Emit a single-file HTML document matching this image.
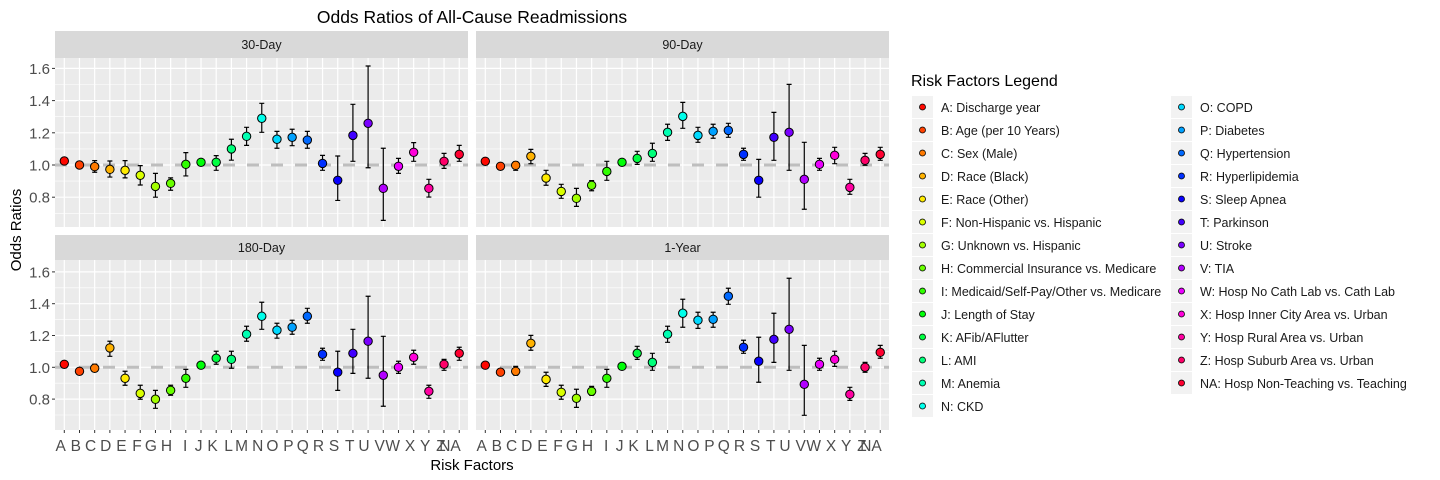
<!DOCTYPE html>
<html><head><meta charset="utf-8"><style>
body{margin:0;background:#fff;}
svg{display:block;font-family:"Liberation Sans",sans-serif;}
</style></head><body>
<svg id="chart" width="1440" height="480" viewBox="0 0 1440 480"></svg>
<script>
const categories=["A","B","C","D","E","F","G","H","I","J","K","L","M","N","O","P","Q","R","S","T","U","V","W","X","Y","Z","NA"];
const legendLabels=["A: Discharge year","B: Age (per 10 Years)","C: Sex (Male)","D: Race (Black)","E: Race (Other)","F: Non-Hispanic vs. Hispanic","G: Unknown vs. Hispanic","H: Commercial Insurance vs. Medicare","I: Medicaid/Self-Pay/Other vs. Medicare","J: Length of Stay","K: AFib/AFlutter","L: AMI","M: Anemia","N: CKD","O: COPD","P: Diabetes","Q: Hypertension","R: Hyperlipidemia","S: Sleep Apnea","T: Parkinson","U: Stroke","V: TIA","W: Hosp No Cath Lab vs. Cath Lab","X: Hosp Inner City Area vs. Urban","Y: Hosp Rural Area vs. Urban","Z: Hosp Suburb Area vs. Urban","NA: Hosp Non-Teaching vs. Teaching"];
const yTicks=[0.8,1.0,1.2,1.4,1.6];
const yMinor=[0.7,0.9,1.1,1.3,1.5];
const panelNames=["30-Day","90-Day","180-Day","1-Year"];
const or30=[1.025,1.0,0.99,0.973,0.967,0.936,0.867,0.886,1.004,1.017,1.017,1.10,1.178,1.29,1.16,1.172,1.155,1.01,0.905,1.184,1.259,0.855,0.992,1.079,0.855,1.023,1.066];
const lo30=[1.01,0.99,0.955,0.925,0.92,0.876,0.80,0.843,0.932,1.005,0.967,1.03,1.122,1.203,1.104,1.12,1.104,0.967,0.78,1.023,0.983,0.656,0.948,1.023,0.801,0.979,1.023];
const hi30=[1.04,1.01,1.027,1.025,1.027,0.996,0.948,0.92,1.077,1.03,1.058,1.16,1.234,1.383,1.209,1.222,1.209,1.06,1.056,1.377,1.615,1.104,1.041,1.139,0.911,1.072,1.122];
const or90=[1.023,0.992,0.998,1.054,0.919,0.836,0.793,0.874,0.96,1.017,1.041,1.072,1.203,1.302,1.184,1.209,1.215,1.066,0.905,1.172,1.203,0.911,1.004,1.06,0.861,1.029,1.066];
const lo90=[1.01,0.98,0.967,1.008,0.874,0.793,0.743,0.84,0.905,1.005,1.004,1.023,1.153,1.228,1.141,1.166,1.172,1.029,0.8,1.029,0.967,0.725,0.967,1.008,0.818,0.998,1.029];
const hi90=[1.035,1.004,1.02,1.097,0.967,0.88,0.855,0.903,1.023,1.029,1.085,1.135,1.253,1.389,1.234,1.253,1.259,1.104,1.035,1.327,1.501,1.141,1.041,1.11,0.911,1.072,1.11];
const or180=[1.019,0.975,0.994,1.122,0.931,0.836,0.799,0.855,0.931,1.013,1.057,1.05,1.208,1.321,1.233,1.252,1.321,1.082,0.969,1.088,1.164,0.95,1.0,1.063,0.849,1.019,1.088];
const lo180=[1.007,0.963,0.975,1.069,0.887,0.799,0.742,0.824,0.874,1.001,1.019,0.994,1.164,1.239,1.183,1.208,1.277,1.044,0.855,0.962,0.931,0.755,0.962,1.019,0.805,0.981,1.044];
const hi180=[1.031,0.987,1.019,1.164,0.975,0.887,0.855,0.887,0.987,1.025,1.101,1.101,1.258,1.409,1.277,1.296,1.371,1.12,1.101,1.239,1.447,1.195,1.038,1.107,0.887,1.05,1.126];
const or1y=[1.013,0.969,0.975,1.151,0.924,0.843,0.805,0.849,0.931,1.006,1.088,1.031,1.208,1.34,1.296,1.302,1.447,1.126,1.038,1.176,1.239,0.893,1.019,1.05,0.83,1.0,1.094];
const lo1y=[1.001,0.957,0.95,1.107,0.88,0.799,0.748,0.824,0.874,0.994,1.05,0.981,1.157,1.252,1.245,1.252,1.396,1.088,0.906,1.031,0.981,0.698,0.981,1.006,0.792,0.969,1.057];
const hi1y=[1.025,0.981,1.006,1.201,0.969,0.887,0.862,0.88,0.987,1.018,1.132,1.088,1.258,1.428,1.346,1.346,1.497,1.17,1.189,1.34,1.56,1.138,1.057,1.101,0.874,1.031,1.138];

const NS="http://www.w3.org/2000/svg";
const svg=document.getElementById("chart");
function el(tag,attrs,parent,text){const e=document.createElementNS(NS,tag);for(const k in attrs)e.setAttribute(k,attrs[k]);if(text!==undefined)e.textContent=text;(parent||svg).appendChild(e);return e;}
function color(i){return "hsl("+((i*360/27+2)%360)+",100%,50%)";}

const panels=[
 {x0:55,x1:468,sy0:31,sy1:58,py0:58,py1:227,y1:165,k:161,o:or30,l:lo30,h:hi30,bottom:false,left:true},
 {x0:476,x1:889,sy0:31,sy1:58,py0:58,py1:227,y1:165,k:161,o:or90,l:lo90,h:hi90,bottom:false,left:false},
 {x0:55,x1:468,sy0:235,sy1:260,py0:260,py1:430,y1:367.3,k:159,o:or180,l:lo180,h:hi180,bottom:true,left:true},
 {x0:476,x1:889,sy0:235,sy1:260,py0:260,py1:430,y1:367.3,k:159,o:or1y,l:lo1y,h:hi1y,bottom:true,left:false}
];
panels.forEach((p,pi)=>{
 const g=el("g",{},svg);
 
 
 const xs=i=>p.x0+9.3+i*15.19;
 const ys=v=>p.y1-(v-1)*p.k;
 el("rect",{x:p.x0,y:p.py0,width:p.x1-p.x0,height:p.py1-p.py0,fill:"#EBEBEB"},g);
 yMinor.forEach(v=>el("line",{x1:p.x0,x2:p.x1,y1:ys(v),y2:ys(v),stroke:"#fff","stroke-width":0.6},g));
 yTicks.forEach(v=>el("line",{x1:p.x0,x2:p.x1,y1:ys(v),y2:ys(v),stroke:"#fff","stroke-width":1.2},g));
 categories.forEach((c,i)=>el("line",{x1:xs(i),x2:xs(i),y1:p.py0,y2:p.py1,stroke:"#fff","stroke-width":1.2},g));
 const st=el("rect",{x:p.x0,y:p.sy0,width:p.x1-p.x0,height:p.sy1-p.sy0,fill:"#D9D9D9"},g);
 
 
 el("text",{x:(p.x0+p.x1)/2,y:(p.sy0+p.sy1)/2+4.5,"text-anchor":"middle","font-size":"12.5",fill:"#1a1a1a"},g,panelNames[pi]);
 const ref=el("line",{x1:p.x0,x2:p.x1,y1:ys(1),y2:ys(1),stroke:"#BEBEBE","stroke-width":3,"stroke-dasharray":"12,12"},g);
 
 
 if(p.left){
  yTicks.forEach(v=>{
   el("line",{x1:p.x0-3,x2:p.x0,y1:ys(v),y2:ys(v),stroke:"#333","stroke-width":1},g);
   const t=el("text",{x:p.x0-5,y:ys(v)+5.5,"text-anchor":"end","font-size":"15",fill:"#4d4d4d"},g,v.toFixed(1));
   
   
  });
 }
 if(p.bottom){
  categories.forEach((c,i)=>{
   el("line",{x1:xs(i),x2:xs(i),y1:p.py1,y2:p.py1+3,stroke:"#333","stroke-width":1},g);
   const t=el("text",{x:xs(i)+1.5,y:451,"text-anchor":"end","font-size":"15.5",fill:"#4d4d4d"},g,c);
   
   
  });
 }
 categories.forEach((c,i)=>{
  const x=xs(i);
  const eb=el("path",{d:`M${x-2.5},${ys(p.h[i])}H${x+2.5}M${x},${ys(p.h[i])}V${ys(p.l[i])}M${x-2.5},${ys(p.l[i])}H${x+2.5}`,stroke:"#000","stroke-width":1.2,fill:"none"},g);
  
  
  const pt=el("circle",{cx:x,cy:ys(p.o[i]),r:4.2,fill:color(i),stroke:"#000","stroke-width":1},g);
  
  
 });
});
const title=el("text",{x:472,y:23,"text-anchor":"middle","font-size":"17.5",fill:"#000"},svg,"Odds Ratios of All-Cause Readmissions");


const xt=el("text",{x:472,y:470,"text-anchor":"middle","font-size":"15",fill:"#000"},svg,"Risk Factors");


const yt=el("text",{x:0,y:0,"text-anchor":"middle","font-size":"15",fill:"#000",transform:"translate(21,230) rotate(-90)"},svg,"Odds Ratios");


const lg=el("g",{},svg);


el("text",{x:911,y:86,"font-size":"16",fill:"#000"},lg,"Risk Factors Legend");
legendLabels.forEach((lab,i)=>{
 const col=i<14?0:1, row=i<14?i:i-14;
 const kx=col?1171:912, ky=96+row*23;
 const e=el("g",{},lg);
 
 
 el("rect",{x:kx,y:ky,width:21,height:22,fill:"#F2F2F2"},e);
 el("circle",{cx:kx+10.5,cy:ky+11,r:3,fill:color(i),stroke:"#000","stroke-width":0.8},e);
 el("text",{x:kx+29,y:ky+16,"font-size":"12.5",fill:"#1a1a1a"},e,lab);
});
</script>
</body></html>
